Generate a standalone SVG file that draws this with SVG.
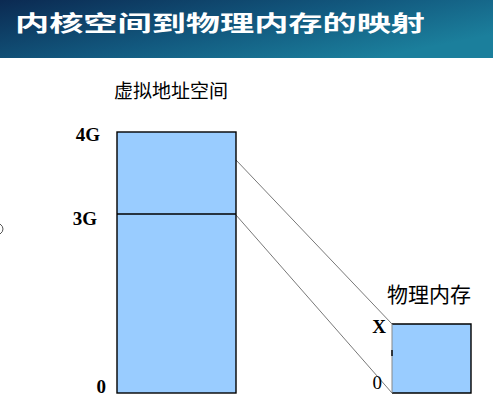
<svg xmlns="http://www.w3.org/2000/svg" width="493" height="420" viewBox="0 0 493 420">
<defs>
<linearGradient id="bar" x1="0" y1="0" x2="1" y2="0.6">
<stop offset="0" stop-color="#0b2a52"/>
<stop offset="0.55" stop-color="#12587e"/>
<stop offset="1" stop-color="#1b7f9c"/>
</linearGradient>
<style>
.box{fill:#99ccff;stroke:#000;stroke-width:1.4}
.map{stroke:#555;stroke-width:0.8;fill:none}
.lbl{font-family:"Liberation Serif","Noto Sans CJK SC",serif;font-weight:bold;font-size:19px;fill:#000}
.num{font-family:"Liberation Serif",serif;font-size:19px;fill:#000}
.cap{font-family:"Liberation Serif","Noto Sans CJK SC",serif;font-size:19px;fill:#000}
.title{font-family:"Noto Sans CJK SC",sans-serif;font-weight:bold;font-size:22px;fill:#fff}
</style>
</defs>
<rect width="493" height="420" fill="#fff"/>
<g id="title">
<rect x="0" y="0" width="493" height="58" fill="url(#bar)"/>
<text class="title" x="15" y="31" textLength="410" lengthAdjust="spacingAndGlyphs">内核空间到物理内存的映射</text>
</g>
<g id="connectors">
<line class="map" x1="236" y1="160" x2="392" y2="324"/>
<line class="map" x1="236" y1="215" x2="392" y2="393"/>
</g>
<g id="virtual">
<text class="cap" x="114" y="98">虚拟地址空间</text>
<rect class="box" x="117" y="132" width="119" height="261"/>
<line x1="117" y1="214" x2="236" y2="214" stroke="#000" stroke-width="1.4"/>
<text class="lbl" x="100" y="141" text-anchor="end">4G</text>
<text class="lbl" x="97" y="225" text-anchor="end">3G</text>
<text class="lbl" x="106" y="393" text-anchor="end">0</text>
</g>
<g id="physical">
<text class="cap" x="387" y="302" style="font-size:21px">物理内存</text>
<rect x="392" y="324" width="79" height="69" fill="#99ccff"/>
<path d="M392 324 H471 V393 H392" fill="none" stroke="#000" stroke-width="1.4"/>
<line x1="392" y1="324" x2="392" y2="393" stroke="#888" stroke-width="1"/>
<line x1="392" y1="350" x2="392" y2="356" stroke="#000" stroke-width="1.4"/>
<text class="lbl" x="386" y="333" text-anchor="end">X</text>
<text class="num" x="382" y="389" text-anchor="end">0</text>
</g>
<path d="M0 224 Q3 226 3 229 Q3 232 0 234" fill="none" stroke="#555" stroke-width="1"/>
</svg>
